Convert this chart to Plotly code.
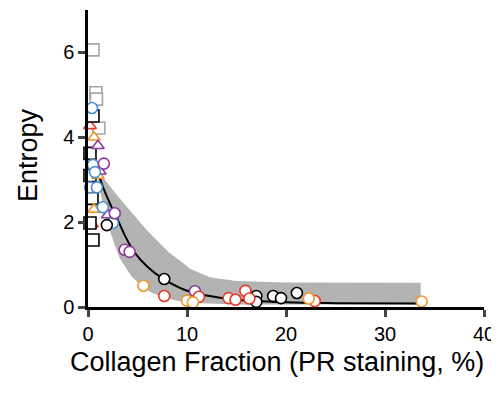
import plotly.graph_objects as go

# ---- data ----
gray_sq_x = [0.5, 0.8, 0.85, 1.1]
gray_sq_y = [6.06, 5.05, 4.9, 4.22]

black_sq_x = [0.5, 0.2, 0.2, 0.4, 0.2, 0.5]
black_sq_y = [4.5, 3.62, 3.1, 2.56, 1.98, 1.58]

red_tri_x = [0.2, 0.4]
red_tri_y = [4.27, 1.95]

orange_tri_x = [0.6, 1.0, 0.6]
orange_tri_y = [4.0, 3.1, 2.3]

purple_tri_x = [1.0, 1.2, 2.0]
purple_tri_y = [3.8, 3.2, 2.17]

blue_circ_x = [0.4, 0.5, 0.7, 0.2, 0.9, 1.5, 2.5]
blue_circ_y = [4.69, 3.35, 3.18, 2.82, 2.82, 2.35, 1.98]

purple_circ_x = [1.6, 2.7, 3.7, 4.2, 10.8]
purple_circ_y = [3.38, 2.21, 1.35, 1.30, 0.37]

black_circ_x = [1.9, 7.7, 17.0, 17.0, 18.7, 19.5, 21.1]
black_circ_y = [1.93, 0.66, 0.26, 0.12, 0.26, 0.21, 0.33]

red_circ_x = [7.7, 11.2, 14.2, 14.9, 15.9, 16.3, 22.9]
red_circ_y = [0.26, 0.24, 0.21, 0.17, 0.38, 0.20, 0.14]

orange_circ_x = [5.6, 10.0, 10.6, 22.3, 33.7]
orange_circ_y = [0.50, 0.15, 0.11, 0.20, 0.13]

fit_x = [0.8, 1.4, 2.2, 3.0, 3.8, 4.75, 6.0, 7.5, 9.8, 12.0, 15.0, 20.0, 25.0, 33.6]
fit_y = [3.4, 2.9, 2.45, 2.06, 1.65, 1.27, 0.95, 0.68, 0.40, 0.27, 0.17, 0.11, 0.09, 0.08]

band_upper_x = [1.0, 1.7, 2.7, 4.0, 6.0, 8.1, 9.8, 10.3, 12.3, 15.0, 20.0, 33.6]
band_upper_y = [3.3, 3.0, 2.7, 2.34, 1.8, 1.3, 1.0, 0.9, 0.70, 0.61, 0.58, 0.57]
band_lower_x = [1.0, 1.6, 2.2, 3.2, 4.4, 5.5, 6.5, 8.0, 10.0, 15.0, 33.6]
band_lower_y = [2.95, 2.35, 1.8, 1.15, 0.72, 0.48, 0.33, 0.2, 0.1, 0.06, 0.06]

x_ticks = [0, 10, 20, 30, 40]
y_ticks = [0, 2, 4, 6]

FONT = "Liberation Sans, Arial, sans-serif"

fig = go.Figure()

# confidence band as closed polygon
fig.add_trace(go.Scatter(
    x=band_upper_x + band_lower_x[::-1],
    y=band_upper_y + band_lower_y[::-1],
    fill="toself", fillcolor="#b3b3b3", mode="none",
    line=dict(width=0), hoverinfo="skip", showlegend=False))

fig.add_trace(go.Scatter(x=fit_x, y=fit_y, mode="lines",
                         line=dict(color="black", width=2, shape="spline"),
                         showlegend=False))

def add(xs, ys, symbol, color, size=11):
    fig.add_trace(go.Scatter(
        x=xs, y=ys, mode="markers", cliponaxis=False, showlegend=False,
        marker=dict(symbol=symbol, size=size, color="white",
                    line=dict(color=color, width=1.6))))

add(gray_sq_x, gray_sq_y, "square", "#a6a6a6", 12)
add(red_tri_x, red_tri_y, "triangle-up", "#e8382b", 11)
add(black_sq_x, black_sq_y, "square", "black", 12)
add(orange_tri_x, orange_tri_y, "triangle-up", "#f0962a", 11)
add(purple_tri_x, purple_tri_y, "triangle-up", "#8e3a9d", 11)
add(blue_circ_x, blue_circ_y, "circle", "#4a8fd4", 11)
add(purple_circ_x, purple_circ_y, "circle", "#8e3a9d", 11)
add(black_circ_x, black_circ_y, "circle", "black", 11)
add(red_circ_x, red_circ_y, "circle", "#e8382b", 11)
add(orange_circ_x, orange_circ_y, "circle", "#f0962a", 11)

# plot area in page pixels (page has an 8px body margin)
L, R, T, B = 88, 484, 10, 307
W, H = 499, 393
OFF = 8

fig.update_layout(
    width=W, height=H,
    margin=dict(l=L - OFF, r=W + OFF - R, t=T - OFF, b=H + OFF - B),
    paper_bgcolor="white", plot_bgcolor="white",
    font=dict(family=FONT, color="black"),
    xaxis=dict(range=[0, 40], tickvals=x_ticks, ticks="outside", ticklen=7,
               tickwidth=2.5, showline=True, linewidth=2.5, linecolor="black",
               showgrid=False, zeroline=False, tickfont=dict(size=20)),
    yaxis=dict(range=[0, 7], tickvals=y_ticks, ticks="outside", ticklen=7,
               tickwidth=2.5, showline=True, linewidth=2.5, linecolor="black",
               showgrid=False, zeroline=False, tickfont=dict(size=20)),
    annotations=[
        dict(text="Collagen Fraction (PR staining, %)", xref="paper", yref="paper",
             x=(277 - L) / (R - L), y=-(362 - B) / (B - T), showarrow=False,
             font=dict(size=27), xanchor="center", yanchor="middle"),
        dict(text="Entropy", xref="paper", yref="paper",
             x=-(L - 28) / (R - L), y=(B - 155) / (B - T), showarrow=False,
             textangle=-90, font=dict(size=27), xanchor="center", yanchor="middle"),
    ],
)

fig.write_html("out.html")
